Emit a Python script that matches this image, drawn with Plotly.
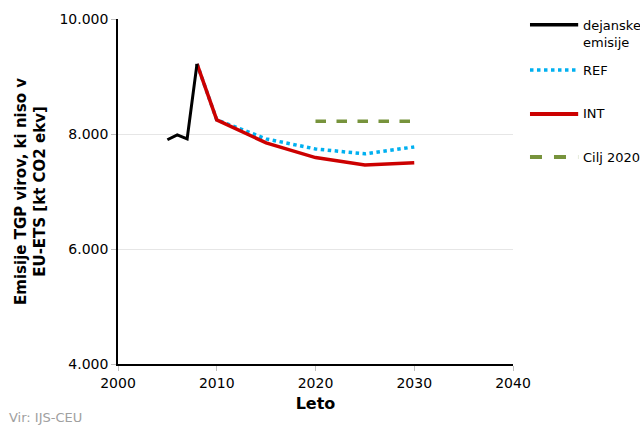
import plotly.graph_objects as go

# Historical emissions (non-ETS GHG, kt CO2 eq)
years_hist = [2005, 2006, 2007, 2008]
emis_hist = [7900, 7985, 7915, 9220]

# Scenario projections
years_proj = [2008, 2010, 2015, 2020, 2025, 2030]
emis_ref = [9220, 8245, 7915, 7740, 7655, 7775]
emis_int = [9220, 8245, 7845, 7590, 7460, 7500]

# 2020 target
years_target = [2020, 2030]
emis_target = [8220, 8220]

FONT = "DejaVu Sans"

series = [
    dict(name="REF", x=years_proj, y=emis_ref, color="#00B0F0", dash="dot", width=3.5),
    dict(name="INT", x=years_proj, y=emis_int, color="#CC0000", dash="solid", width=3.5),
    dict(name="dejanske emisije", x=years_hist, y=emis_hist, color="#000000", dash="solid", width=3),
    dict(name="Cilj 2020", x=years_target, y=emis_target, color="#77933C", dash="dash", width=3.5),
]

fig = go.Figure()
for s in series:
    fig.add_trace(go.Scatter(
        x=s["x"], y=s["y"], mode="lines", name=s["name"],
        line=dict(color=s["color"], dash=s["dash"], width=s["width"]),
        showlegend=False,
    ))

# Hand-built legend on the right: (label, colour, dash, width, sample y, text centre y)
legend_items = [
    ("dejanske<br>emisije", "#000000", "solid", 3.5, 0.983, 0.957),
    ("REF", "#00B0F0", "dot", 3.5, 0.852, 0.852),
    ("INT", "#CC0000", "solid", 4, 0.725, 0.725),
    ("Cilj 2020", "#77933C", "dash", 4, 0.600, 0.600),
]
shapes = []
annotations = []
for label, color, dash, width, yp, yt in legend_items:
    shapes.append(dict(type="line", xref="paper", yref="paper",
                       x0=1.043, x1=1.165, y0=yp, y1=yp,
                       line=dict(color=color, dash=dash, width=width)))
    annotations.append(dict(xref="paper", yref="paper", x=1.172, y=yt,
                            xanchor="left", yanchor="middle", text=label, showarrow=False,
                            align="left", font=dict(family=FONT, size=13, color="#000000")))

annotations.append(dict(xref="paper", yref="paper", x=-0.28, y=-0.128,
                        xanchor="left", yanchor="top", text="Vir: IJS-CEU", showarrow=False,
                        font=dict(family=FONT, size=13, color="#A0A0A0")))

fig.update_layout(
    width=640, height=428,
    margin=dict(l=118, r=127, t=19, b=64),
    paper_bgcolor="white", plot_bgcolor="white",
    font=dict(family=FONT, size=14, color="#000000"),
    shapes=shapes, annotations=annotations,
    xaxis=dict(
        range=[2000, 2040], tickvals=[2000, 2010, 2020, 2030, 2040],
        showline=True, linecolor="#000000", linewidth=1.5,
        ticks="outside", ticklen=5, tickcolor="#BFBFBF",
        showgrid=False, zeroline=False,
        title=dict(text="<b>Leto</b>", font=dict(size=16), standoff=8),
        tickfont=dict(size=14),
    ),
    yaxis=dict(
        range=[4000, 10000], tickvals=[4000, 6000, 8000, 10000],
        ticktext=["4.000", "6.000", "8.000", "10.000"],
        showline=True, linecolor="#000000", linewidth=1.5,
        ticks="outside", ticklen=5, tickcolor="#BFBFBF",
        showgrid=True, gridcolor="#E6E6E6", gridwidth=1, zeroline=False,
        title=dict(text="<b>Emisije TGP virov, ki niso v<br>EU-ETS [kt CO2 ekv]</b>",
                   font=dict(size=15), standoff=10),
        tickfont=dict(size=14),
    ),
)

fig.write_html("out.html")
